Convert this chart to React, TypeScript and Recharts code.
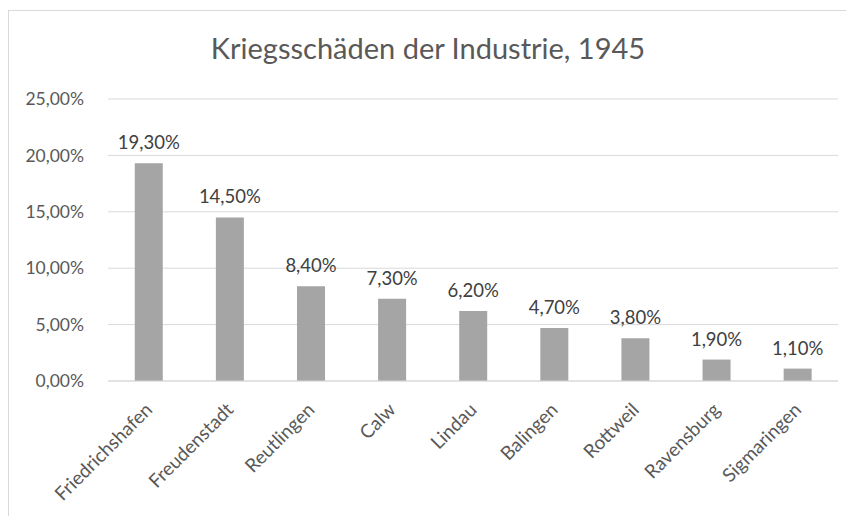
import React from 'react';
import { BarChart, Bar, XAxis, YAxis, CartesianGrid, LabelList } from 'recharts';

const districts = ['Friedrichshafen', 'Freudenstadt', 'Reutlingen', 'Calw', 'Lindau', 'Balingen', 'Rottweil', 'Ravensburg', 'Sigmaringen'];
const damagePercent = [19.3, 14.5, 8.4, 7.3, 6.2, 4.7, 3.8, 1.9, 1.1];
const yTicks = [0, 5, 10, 15, 20, 25];

const chartData = districts.map((name, i) => ({ name, value: damagePercent[i] }));

const fmt = (v: number) => v.toFixed(2).replace('.', ',') + '%';

const FONT = 'Lato, "Open Sans", sans-serif';

const RotatedTick = (props: any) => {
  const { x, y, payload } = props;
  return (
    <g transform={`translate(${x + 5},${y + 22})`}>
      <text textAnchor="end" transform="rotate(-45)" fill="#595959" fontSize={19} fontFamily={FONT}>
        {payload.value}
      </text>
    </g>
  );
};

export default function App() {
  return (
    <div style={{ position: 'relative', top: 2, width: 846, height: 508, borderTop: '1px solid #d9d9d9', borderLeft: '1px solid #d9d9d9', boxSizing: 'border-box', background: '#fff' }}>
      <style>{'body{overflow:hidden}'}</style>
      <div style={{ position: 'absolute', left: 0, width: 838, top: 19, textAlign: 'center', fontFamily: FONT, fontSize: 29, color: '#595959' }}>
        Kriegsschäden der Industrie, 1945
      </div>
      <BarChart
        width={846}
        height={508}
        data={chartData}
        margin={{ top: 88, right: 17, left: 0, bottom: 38 }}
        barCategoryGap="33%"
      >
        <CartesianGrid vertical={false} stroke="#d9d9d9" />
        <XAxis dataKey="name" axisLine={{ stroke: '#d9d9d9' }} tickLine={false} interval={0} height={100} tick={<RotatedTick />} />
        <YAxis
          domain={[0, 25]}
          ticks={yTicks}
          width={99}
          axisLine={false}
          tickLine={false}
          tickMargin={18}
          tickFormatter={fmt}
          tick={{ fill: '#595959', fontSize: 17.5, fontFamily: FONT }}
        />
        <Bar dataKey="value" fill="#a5a5a5" isAnimationActive={false}>
          <LabelList dataKey="value" position="top" offset={14} formatter={(v: any) => fmt(Number(v))} fill="#404040" fontSize={18.5} fontFamily={FONT} />
        </Bar>
      </BarChart>
    </div>
  );
}
